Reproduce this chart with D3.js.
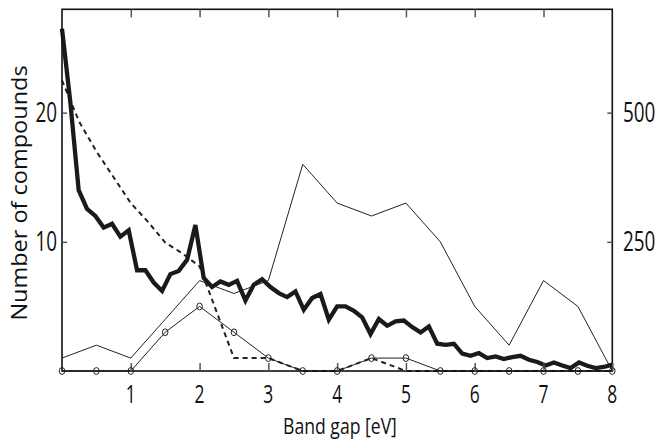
<!DOCTYPE html>
<html>
<head>
<meta charset="utf-8">
<script src="https://cdn.jsdelivr.net/npm/d3@7"></script>
<style>
  body { margin: 0; background: #fff; }
  text { font-family: "Open Sans", sans-serif; fill: #111; }
</style>
</head>
<body>
<div id="grafico"></div>
<script>
// 1. Datos leidos de la figura
// linea gruesa: 67 bins entre 0 y 8 eV
const binStep = 8 / 66;
const thickVals = [26.5, 20.8, 14.0, 12.55, 12.0, 11.1, 11.4, 10.4, 10.9, 7.8,
  7.8, 6.85, 6.2, 7.5, 7.75, 8.6, 11.3, 7.2, 6.5, 6.93,
  6.67, 6.98, 5.46, 6.67, 7.11, 6.5, 6.03, 5.72, 6.16, 4.74,
  5.65, 5.96, 3.97, 5.0, 5.0, 4.66, 4.15, 2.86, 4.02, 3.5,
  3.84, 3.91, 3.4, 2.99, 3.45, 2.11, 2.03, 2.11, 1.34, 1.18,
  1.39, 1.0, 1.13, 0.93, 1.08, 1.18, 0.87, 0.7, 0.43, 0.66,
  0.43, 0.23, 0.66, 0.41, 0.23, 0.31, 0.49];

// linea discontinua
const dashX    = [0, 0.25, 0.5, 0.75, 1, 1.25, 1.5, 1.75, 2, 2.5, 3, 3.5, 4, 4.5, 5, 5.5, 6, 6.5, 7, 7.5, 8];
const dashVals = [22.5, 19.3, 17.0, 15.0, 13.0, 11.55, 9.95, 9.1, 8.1, 1, 1, 0, 0, 1, 0, 0, 0, 0, 0, 0, 0];

// series cada 0.5 eV
const halfX      = [0, 0.5, 1, 1.5, 2, 2.5, 3, 3.5, 4, 4.5, 5, 5.5, 6, 6.5, 7, 7.5, 8];
const thinRight  = [25, 50, 25, 100, 175, 150, 175, 400, 325, 300, 325, 250, 125, 50, 175, 125, 0]; // eje derecho
const circleVals = [0, 0, 0, 3, 5, 3, 1, 0, 0, 1, 1, 0, 0, 0, 0, 0, 0];

const xTicks      = [1, 2, 3, 4, 5, 6, 7, 8];
const yTicksLeft  = [10, 20];
const yTicksRight = [250, 500];

// 2. Dimensiones
const W = 656, H = 441;
const plot = { left: 62, right: 612.3, top: 9.3, bottom: 371 };

const svg = d3.select("#grafico")
  .append("svg")
    .attr("width", W)
    .attr("height", H);

// 3. Escalas
const x = d3.scaleLinear().domain([0, 8]).range([plot.left, plot.right]);
const yL = d3.scaleLinear().domain([0, 28]).range([plot.bottom, plot.top]);
const yR = d3.scaleLinear().domain([0, 700]).range([plot.bottom, plot.top]);

// 4. Series
const thinLine = d3.line().x((d, i) => x(halfX[i])).y(d => yR(d));
svg.append("path")
   .datum(thinRight)
   .attr("fill", "none")
   .attr("stroke", "#222")
   .attr("stroke-width", 1)
   .attr("d", thinLine);

const circLine = d3.line().x((d, i) => x(halfX[i])).y(d => yL(d));
svg.append("path")
   .datum(circleVals)
   .attr("fill", "none")
   .attr("stroke", "#222")
   .attr("stroke-width", 1)
   .attr("d", circLine);

const dashLine = d3.line().x((d, i) => x(dashX[i])).y(d => yL(d));
svg.append("path")
   .datum(dashVals)
   .attr("fill", "none")
   .attr("stroke", "#222")
   .attr("stroke-width", 2)
   .attr("stroke-dasharray", "5,4")
   .attr("d", dashLine);

const thickLine = d3.line().x((d, i) => x(i * binStep)).y(d => yL(d));
svg.append("path")
   .datum(thickVals)
   .attr("fill", "none")
   .attr("stroke", "#1a1a1a")
   .attr("stroke-width", 4.3)
   .attr("stroke-linejoin", "miter")
   .attr("d", thickLine);

// 5. Marco y ejes (ticks hacia dentro)
const axisColor = "#111";
svg.append("rect")
   .attr("x", plot.left).attr("y", plot.top)
   .attr("width", plot.right - plot.left).attr("height", plot.bottom - plot.top)
   .attr("fill", "none").attr("stroke", axisColor).attr("stroke-width", 1.6);

const xAxisB = d3.axisBottom(x).tickValues(xTicks).tickSize(-8).tickFormat("");
svg.append("g").attr("transform", `translate(0,${plot.bottom})`).call(xAxisB);
const xAxisT = d3.axisTop(x).tickValues(xTicks.slice(0, 7)).tickSize(-8).tickFormat("");
svg.append("g").attr("transform", `translate(0,${plot.top})`).call(xAxisT);
const yAxisL = d3.axisLeft(yL).tickValues(yTicksLeft).tickSize(-5).tickFormat("");
svg.append("g").attr("transform", `translate(${plot.left},0)`).call(yAxisL);
const yAxisR = d3.axisRight(yR).tickValues(yTicksRight).tickSize(-5).tickFormat("");
svg.append("g").attr("transform", `translate(${plot.right},0)`).call(yAxisR);
svg.selectAll(".domain").remove();
svg.selectAll(".tick line").attr("stroke", "#555").attr("stroke-width", 1.5);

// marcadores circulares (encima)
svg.selectAll("ellipse.pt")
   .data(circleVals)
   .enter()
   .append("ellipse")
     .attr("class", "pt")
     .attr("cx", (d, i) => x(halfX[i]))
     .attr("cy", d => yL(d))
     .attr("rx", 2.8)
     .attr("ry", 3.4)
     .attr("fill", "none")
     .attr("stroke", "#222")
     .attr("stroke-width", 1);

// 6. Etiquetas (fuente estrecha: se comprime en horizontal)
const sx = 0.7;
xTicks.forEach(t => {
  svg.append("text")
     .attr("transform", `translate(${x(t)},403) scale(${sx},1)`)
     .attr("text-anchor", "middle")
     .attr("font-size", 25)
     .text(t);
});
yTicksLeft.forEach(t => {
  svg.append("text")
     .attr("transform", `translate(57,${yL(t) + 9.5}) scale(${sx},1)`)
     .attr("text-anchor", "end")
     .attr("font-size", 27)
     .text(t);
});
yTicksRight.forEach(t => {
  svg.append("text")
     .attr("transform", `translate(623,${yR(t) + 9.5}) scale(${sx},1)`)
     .attr("text-anchor", "start")
     .attr("font-size", 27)
     .text(t);
});

svg.append("text")
   .attr("transform", `translate(340,434) scale(0.8,1)`)
   .attr("text-anchor", "middle")
   .attr("font-size", 22)
   .text("Band gap [eV]");

svg.append("text")
   .attr("transform", `translate(27,193) scale(0.95,1) rotate(-90)`)
   .attr("text-anchor", "middle")
   .attr("font-size", 23.5)
   .text("Number of compounds");
</script>
</body>
</html>
